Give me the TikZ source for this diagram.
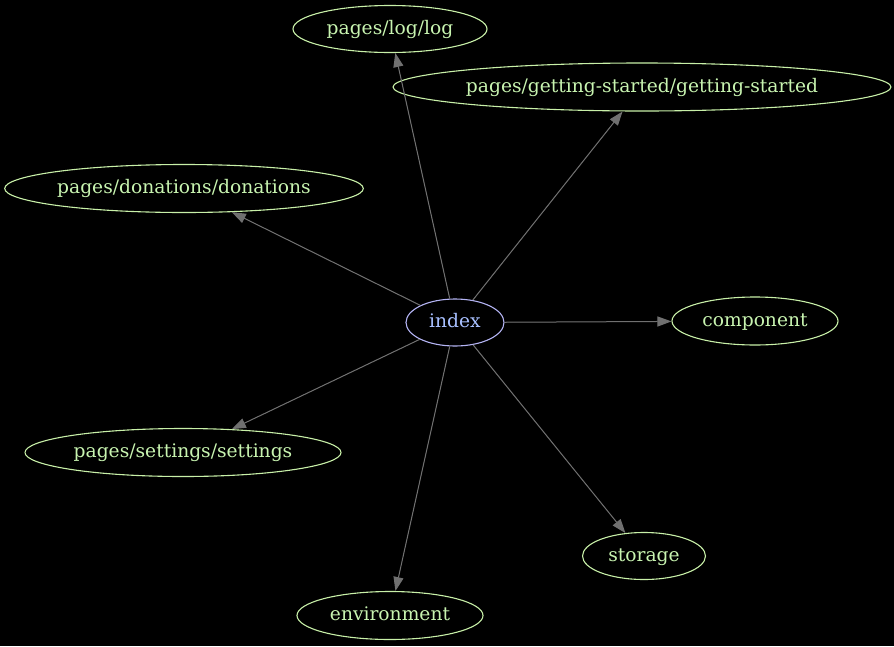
\documentclass[tikz,border=0pt]{standalone}
\usepackage{fontspec}
\setmainfont{DejaVu Serif}
\usetikzlibrary{shapes.geometric,arrows.meta}
\definecolor{leafline}{HTML}{C8F0A8}
\definecolor{leaftext}{HTML}{C8F4B0}
\definecolor{rootline}{HTML}{B4B4F4}
\definecolor{roottext}{HTML}{A8C0FF}
\definecolor{edgegray}{HTML}{707070}
\tikzset{
  every node/.style={font=\fontsize{18.67}{22}\selectfont, text height=10pt, text depth=0pt},
  leaf/.style={ellipse, draw=leafline, text=leaftext, line width=1.1pt, inner sep=0pt},
  root/.style={ellipse, draw=rootline, text=roottext, line width=1.1pt, inner sep=0pt},
  dep/.style={draw=edgegray, line width=1pt, -{Triangle[length=14pt,width=10pt]}, fill=edgegray},
}
\begin{document}
\begin{tikzpicture}[x=1pt,y=-1pt]
\fill[black] (0,0) rectangle (894,646);
\useasboundingbox (0,0) rectangle (894,646);
\node[root, minimum width=98pt, minimum height=47pt] (index) at (455,322.5) {index};
\node[leaf, minimum width=194pt, minimum height=47pt] (log) at (390,29) {pages/log/log};
\node[leaf, minimum width=491pt, minimum height=48pt] (gs) at (642,87) {pages/getting-started/getting-started};
\node[leaf, minimum width=358pt, minimum height=48pt] (don) at (184,188.5) {pages/donations/donations};
\node[leaf, minimum width=166pt, minimum height=48pt] (comp) at (755,321) {component};
\node[leaf, minimum width=316pt, minimum height=48pt] (set) at (183,452.5) {pages/settings/settings};
\node[leaf, minimum width=123pt, minimum height=47pt] (stor) at (644,556) {storage};
\node[leaf, minimum width=186pt, minimum height=48pt] (env) at (390,615.5) {environment};
\foreach \t in {log,gs,don,comp,set,stor,env}
  \draw[dep] (index) -- (\t);
\end{tikzpicture}
\end{document}
